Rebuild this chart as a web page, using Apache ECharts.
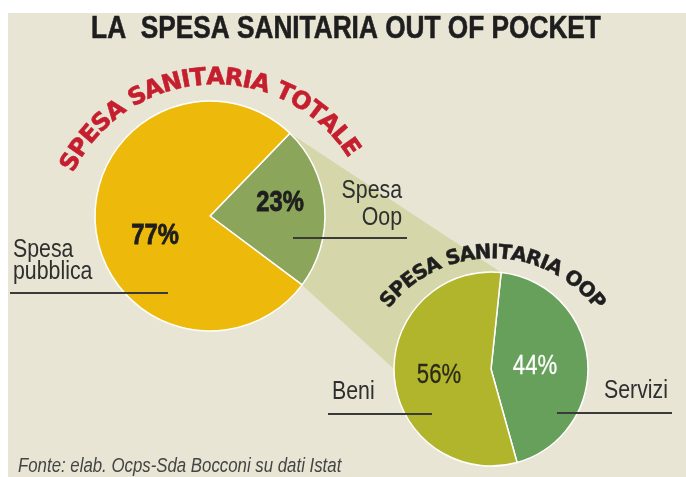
<!DOCTYPE html>
<html><head><meta charset="utf-8">
<script src="https://cdn.jsdelivr.net/npm/echarts@6/dist/echarts.min.js"></script>
<style>html,body{margin:0;padding:0;background:#fff}#c{width:686px;height:477px}</style>
</head><body><div id="c"></div>
<script>
// ---- data ----
const titleText = 'LA  SPESA SANITARIA OUT OF POCKET';
const totalCategories = ['Spesa Oop', 'Spesa pubblica'];
const totalValues = [23, 77];
const oopCategories = ['Servizi', 'Beni'];
const oopValues = [44, 56];
const totalArcTitle = 'SPESA SANITARIA TOTALE';
const oopArcTitle = 'SPESA SANITARIA OOP';
const sourceText = 'Fonte: elab. Ocps-Sda Bocconi su dati Istat';

// ---- layout / style ----
const BIG = {cx: 210, cy: 216, r: 115, start: 46};
const SMALL = {cx: 491, cy: 369, r: 97, start: 84};
const COL = {
  bg: '#E9E5D5', yellow: '#EDBA0C', green: '#8BA65B', pale: '#D5D6A9',
  beni: '#B1B52C', servizi: '#66A05A', red: '#C51E2E', ink: '#1e1e1e', label: '#2f2f2f'
};

const mctx = document.createElement('canvas').getContext('2d');
function hasFont(name) {
  const s = 'abcdefghijklmnopqrstuvwxyzABCDEFGHIJ';
  mctx.font = "20px '" + name + "', monospace"; const a = mctx.measureText(s).width;
  mctx.font = '20px monospace'; const b = mctx.measureText(s).width;
  return a !== b;
}
const NARROW = hasFont('Liberation Sans Narrow');
function nText(o) {
  const fam = NARROW ? "'Liberation Sans Narrow'" : "'Liberation Sans'";
  const font = (o.italic ? 'italic ' : '') + (o.bold ? 'bold ' : '') + o.size + 'px ' + fam;
  const fill = o.fill || COL.label;
  const style = {text: o.text, font: font, fill: fill, align: o.align || 'left', verticalAlign: 'middle'};
  if (o.heavy) { style.stroke = fill; style.lineWidth = o.heavy; }
  return {type: 'text', x: o.x, y: o.y, z: 100, silent: true, scaleX: NARROW ? 1 : 0.82, style: style};
}
function arcText(str, cx, cy, R, a0, a1, font, color, heavy) {
  mctx.font = font;
  const chars = [...str];
  const w = chars.map(ch => mctx.measureText(ch).width);
  let acc = 0; const centers = [];
  w.forEach(wi => { centers.push(acc + wi / 2); acc += wi; });
  const span = centers[centers.length - 1] - centers[0];
  const els = [];
  chars.forEach((ch, i) => {
    if (ch === ' ') return;
    const t = (centers[i] - centers[0]) / span;
    const ang = a0 + (a1 - a0) * t;
    const rad = ang * Math.PI / 180;
    els.push({
      type: 'text', x: cx + R * Math.cos(rad), y: cy - R * Math.sin(rad), z: 100, silent: true,
      rotation: (ang - 90) * Math.PI / 180,
      style: {text: ch, font: font, fill: color, stroke: color, lineWidth: heavy, align: 'center', verticalAlign: 'middle'}
    });
  });
  return els;
}
function pt(p, angDeg) {
  const a = angDeg * Math.PI / 180;
  return [p.cx + p.r * Math.cos(a), p.cy - p.r * Math.sin(a)];
}
const sumT = totalValues.reduce((a, b) => a + b, 0);
const oopEnd = BIG.start - totalValues[0] / sumT * 360;
const connector = [pt(BIG, BIG.start), pt(SMALL, SMALL.start), [SMALL.cx, SMALL.cy], pt(SMALL, 180), pt(BIG, oopEnd)];

const line = (x1, y1, x2, y2) => ({type: 'line', z: 90, silent: true, shape: {x1, y1, x2, y2}, style: {stroke: '#3a3a3a', lineWidth: 2}});

const graphics = [
  {type: 'rect', z: -10, silent: true, shape: {x: 8, y: 13, width: 686, height: 477}, style: {fill: COL.bg}},
  {type: 'polygon', z: -5, silent: true, shape: {points: connector}, style: {fill: COL.pale}},
  nText({text: titleText, x: 346, y: 29, size: 32, bold: true, align: 'center', fill: COL.ink, heavy: 0.6}),
  nText({text: totalValues[1] + '%', x: 155, y: 236, size: 29, bold: true, align: 'center', fill: COL.ink, heavy: 0.8}),
  nText({text: totalValues[0] + '%', x: 280, y: 203, size: 29, bold: true, align: 'center', fill: COL.ink, heavy: 0.8}),
  nText({text: oopValues[1] + '%', x: 439, y: 376, size: 27, align: 'center', fill: '#2a2a1a', heavy: 0.3}),
  nText({text: oopValues[0] + '%', x: 535, y: 367, size: 27, align: 'center', fill: '#ffffff', heavy: 0.3}),
  nText({text: 'Spesa', x: 13, y: 250, size: 26}),
  nText({text: 'pubblica', x: 13, y: 272, size: 26}),
  nText({text: 'Spesa', x: 402, y: 191, size: 26, align: 'right'}),
  nText({text: 'Oop', x: 402, y: 218, size: 26, align: 'right'}),
  nText({text: oopCategories[1], x: 332, y: 392, size: 26}),
  nText({text: oopCategories[0], x: 668, y: 391, size: 26, align: 'right'}),
  nText({text: sourceText, x: 18, y: 466, size: 20.5, italic: true, fill: '#444'}),
  line(10, 293, 168, 293),
  line(293, 238, 407, 238),
  line(328, 414, 432, 414),
  line(557, 413, 672, 413),
  ...arcText(totalArcTitle, 215, 242, 164, 151, 35, "bold 24px 'DejaVu Sans'", COL.red, 0.6),
  ...arcText(oopArcTitle, 492, 389, 136, 139, 40, "bold 20px 'DejaVu Sans'", COL.ink, 0.5)
];

const chart = echarts.init(document.getElementById('c'));
chart.setOption({
  animation: false,
  backgroundColor: '#ffffff',
  graphic: {elements: graphics},
  series: [
    {
      type: 'pie', center: [BIG.cx, BIG.cy], radius: BIG.r, startAngle: BIG.start, clockwise: true,
      silent: true, label: {show: false}, labelLine: {show: false},
      itemStyle: {borderColor: '#ffffff', borderWidth: 1.5},
      data: totalCategories.map((n, i) => ({name: n, value: totalValues[i], itemStyle: {color: i === 0 ? COL.green : COL.yellow}}))
    },
    {
      type: 'pie', center: [SMALL.cx, SMALL.cy], radius: SMALL.r, startAngle: SMALL.start, clockwise: true,
      silent: true, label: {show: false}, labelLine: {show: false},
      itemStyle: {borderColor: '#ffffff', borderWidth: 1.5},
      data: oopCategories.map((n, i) => ({name: n, value: oopValues[i], itemStyle: {color: i === 0 ? COL.servizi : COL.beni}}))
    }
  ]
});
</script></body></html>
